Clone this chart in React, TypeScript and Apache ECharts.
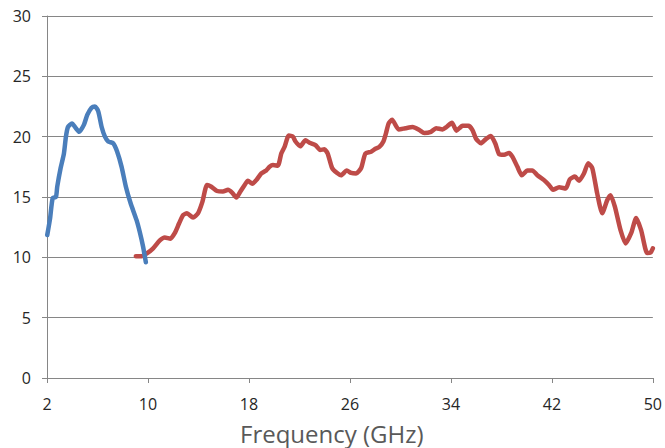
import React, { useEffect, useRef } from "react";
import * as echarts from "echarts";

const xTicks = [2, 10, 18, 26, 34, 42, 50];
const yTicks = [0, 5, 10, 15, 20, 25, 30];
const xTitle = "Frequency (GHz)";

const blueFreq = [2.02, 2.24, 2.45, 2.71, 2.81, 3.08, 3.34, 3.5, 3.66, 3.98, 4.29, 4.55, 4.93, 5.19, 5.53, 5.8, 6.06, 6.33, 6.59, 6.85, 7.24, 7.56, 7.91, 8.25, 8.62, 9.09, 9.35, 9.61, 9.83];
const blueGain = [11.85, 13.2, 14.9, 15.0, 15.85, 17.4, 18.6, 20.0, 20.8, 21.1, 20.7, 20.4, 21.0, 21.8, 22.4, 22.5, 22.1, 20.8, 20.0, 19.6, 19.45, 18.75, 17.5, 15.85, 14.5, 13.1, 12.1, 10.9, 9.6];

const redFreq = [9.04, 9.49, 9.88, 10.41, 10.94, 11.33, 11.78, 12.12, 12.46, 12.78, 13.09, 13.57, 13.96, 14.31, 14.68, 15.02, 15.47, 15.94, 16.34, 16.68, 17.0, 17.32, 17.66, 17.92, 18.27, 18.58, 18.98, 19.37, 19.63, 19.9, 20.29, 20.56, 20.82, 21.16, 21.48, 21.69, 22.06, 22.48, 22.8, 23.27, 23.64, 23.98, 24.24, 24.59, 24.96, 25.3, 25.75, 26.09, 26.49, 26.89, 27.22, 27.68, 28.02, 28.33, 28.65, 28.86, 29.07, 29.34, 29.86, 30.39, 30.97, 31.5, 31.89, 32.42, 32.82, 33.34, 33.65, 34.08, 34.44, 34.92, 35.39, 35.71, 35.98, 36.37, 36.77, 37.16, 37.51, 37.82, 38.22, 38.61, 38.87, 39.27, 39.62, 40.06, 40.45, 40.85, 41.38, 41.77, 42.09, 42.57, 43.1, 43.41, 43.83, 44.15, 44.54, 44.88, 45.2, 45.59, 45.99, 46.39, 46.65, 46.99, 47.44, 47.84, 48.28, 48.68, 49.07, 49.55, 49.82, 50.0];
const redGain = [10.1, 10.1, 10.3, 10.75, 11.4, 11.65, 11.55, 12.0, 12.8, 13.5, 13.65, 13.3, 13.65, 14.6, 16.0, 15.85, 15.5, 15.45, 15.6, 15.35, 14.95, 15.45, 16.0, 16.35, 16.1, 16.4, 16.95, 17.2, 17.5, 17.65, 17.6, 18.6, 19.15, 20.1, 20.0, 19.6, 19.2, 19.7, 19.5, 19.3, 18.9, 18.95, 18.6, 17.4, 17.0, 16.8, 17.2, 17.0, 16.95, 17.4, 18.6, 18.75, 19.0, 19.15, 19.6, 20.3, 21.1, 21.4, 20.6, 20.7, 20.8, 20.55, 20.3, 20.4, 20.7, 20.6, 20.8, 21.15, 20.5, 20.9, 20.9, 20.55, 19.85, 19.45, 19.8, 20.05, 19.45, 18.55, 18.5, 18.65, 18.35, 17.5, 16.8, 17.2, 17.2, 16.8, 16.4, 16.0, 15.6, 15.8, 15.7, 16.45, 16.7, 16.35, 16.95, 17.8, 17.4, 15.3, 13.65, 14.75, 15.15, 14.2, 12.25, 11.15, 12.0, 13.25, 12.25, 10.35, 10.4, 10.75];

const FONT = "'Open Sans', 'DejaVu Sans', sans-serif";
const AXIS_GRAY = "#868686";

export default function App() {
  const ref = useRef<HTMLDivElement>(null);
  useEffect(() => {
    if (!ref.current) return;
    const chart = echarts.init(ref.current, null, { renderer: "svg" });
    const pairs = (xs: number[], ys: number[]) => xs.map((x, i) => [x, ys[i]]);
    chart.setOption({
      animation: false,
      backgroundColor: "#ffffff",
      grid: { left: 47, right: 11, top: 16, bottom: 70, containLabel: false },
      graphic: [
        {
          type: "text",
          left: 240,
          top: 421,
          style: {
            text: xTitle,
            fontFamily: FONT,
            fontSize: 24,
            fill: "#595959",
          },
        },
      ],
      xAxis: {
        type: "value",
        min: xTicks[0],
        max: xTicks[xTicks.length - 1],
        interval: xTicks[1] - xTicks[0],
        axisLine: { show: true, lineStyle: { color: AXIS_GRAY, width: 1 } },
        axisTick: { show: true, length: 5, lineStyle: { color: AXIS_GRAY } },
        splitLine: { show: false },
        axisLabel: { fontFamily: FONT, fontSize: 16, color: "#262626", margin: 18 },
      },
      yAxis: {
        type: "value",
        min: yTicks[0],
        max: yTicks[yTicks.length - 1],
        interval: yTicks[1] - yTicks[0],
        axisLine: { show: true, lineStyle: { color: AXIS_GRAY, width: 1 } },
        axisTick: { show: true, length: 5, lineStyle: { color: AXIS_GRAY } },
        splitLine: { show: true, lineStyle: { color: AXIS_GRAY, width: 1 } },
        axisLabel: { fontFamily: FONT, fontSize: 16, color: "#262626", margin: 16 },
      },
      series: [
        {
          type: "line",
          data: pairs(blueFreq, blueGain),
          showSymbol: false,
          smooth: 0.2,
          lineStyle: { color: "#4A7EBB", width: 4.5, join: "round", cap: "round" },
          z: 3,
        },
        {
          type: "line",
          data: pairs(redFreq, redGain),
          showSymbol: false,
          smooth: 0.2,
          lineStyle: { color: "#BE4B48", width: 4.5, join: "round", cap: "round" },
          z: 2,
        },
      ],
    });
    return () => chart.dispose();
  }, []);
  return <div ref={ref} style={{ width: 665, height: 448, position: "absolute", left: 0, top: 0 }} />;
}
